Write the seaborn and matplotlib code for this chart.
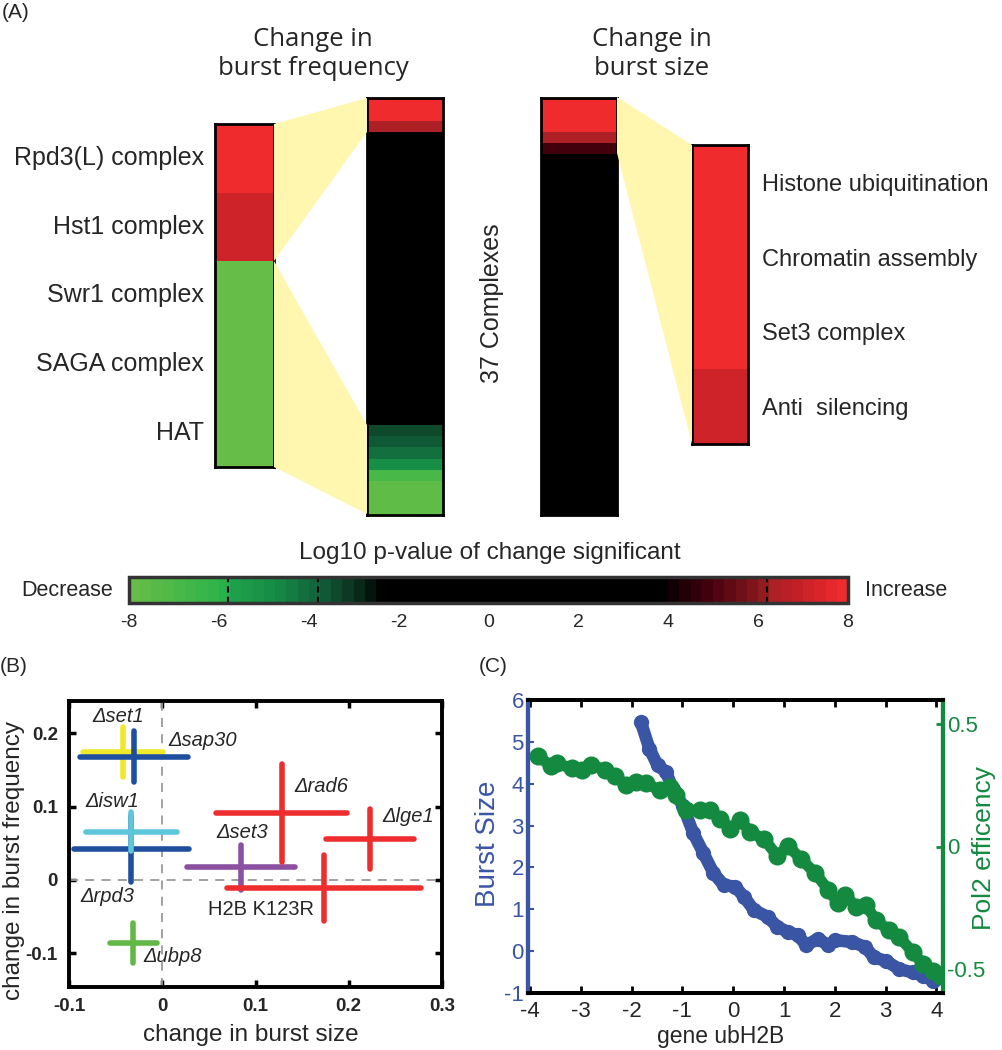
"""
Burst frequency / burst size enrichment figure (panels A, B, C).
"""
import numpy as np
import matplotlib
matplotlib.use("Agg")
import matplotlib.pyplot as plt
from matplotlib.colors import LinearSegmentedColormap, Normalize
from matplotlib.cm import ScalarMappable
from matplotlib.patches import Polygon
import seaborn as sns

sns.set_theme(style="white")
plt.rcParams['font.family'] = ['Liberation Sans', 'DejaVu Sans']
plt.rcParams['axes.unicode_minus'] = False

# ---------------- data ----------------
# (A) signed log10 p-values
freq_complexes = ["Rpd3(L) complex", "Hst1 complex", "Swr1 complex", "SAGA complex", "HAT"]
freq_selected = [8.0, 7.0, -7.8, -7.8, -7.8]
freq_all = [8.0, 8.0, 6.3,
            0, 0, 0, 0, 0, 0, 0, 0, 0, 0, 0, 0, 0,
            0, 0, 0, 0, 0, 0, 0, 0, 0, 0, 0, 0, 0,
            -3.4, -3.6, -4.1, -4.8, -6.8, -7.7, -7.7, -7.7]
size_all = [8.0, 8.0, 8.0, 6.3, 4.9,
            0, 0, 0, 0, 0, 0, 0, 0, 0, 0, 0, 0, 0, 0, 0, 0,
            0, 0, 0, 0, 0, 0, 0, 0, 0, 0, 0, 0, 0, 0, 0, 0]
size_complexes = ["Histone ubiquitination", "Chromatin assembly", "Set3 complex", "Anti  silencing"]
size_selected = [8.0, 8.0, 8.0, 7.0]
cbar_ticks = [-8, -6, -4, -2, 0, 2, 4, 6, 8]

# (B) mutants: change in burst size (x) and burst frequency (y)
mutants = ["\u0394set1", "\u0394sap30", "\u0394rpd3", "\u0394isw1", "\u0394ubp8",
           "\u0394set3", "\u0394rad6", "\u0394lge1", "H2B K123R"]
size_change = [-0.042, -0.030, -0.033, -0.033, -0.031, 0.0845, 0.128, 0.2225, 0.173]
size_err = [0.043, 0.058, 0.062, 0.049, 0.025, 0.058, 0.070, 0.047, 0.104]
freq_change = [0.175, 0.168, 0.042, 0.066, -0.086, 0.017, 0.091, 0.056, -0.011]
freq_err = [0.034, 0.035, 0.045, 0.026, 0.027, 0.031, 0.067, 0.041, 0.045]
mutant_colors = ["#f0e92b", "#1f4e9e", "#1f4e9e", "#5ec6da", "#62b846",
                 "#8c50a0", "#ee2e2e", "#ee2e2e", "#ee2e2e"]
label_x = [-0.0746, 0.007, -0.088, -0.082, -0.020, 0.058, 0.142, 0.236, 0.049]
label_y = [0.223, 0.190, -0.023, 0.107, -0.105, 0.065, 0.128, 0.087, -0.040]

# (C) running averages vs gene ubH2B
burst_x = [-1.82, -1.65, -1.49, -1.32, -1.19, -0.99, -0.79, -0.59, -0.39, -0.19,
           0.04, 0.21, 0.41, 0.675, 0.87, 1.075, 1.27, 1.44, 1.67, 1.87,
           2.01, 2.34, 2.60, 2.77, 3.00, 3.27, 3.54, 3.74, 3.94]
burst_size = [5.48, 4.84, 4.44, 4.28, 3.87, 3.47, 2.83, 2.35, 1.87, 1.58,
              1.54, 1.30, 0.98, 0.82, 0.58, 0.46, 0.38, 0.14, 0.30, 0.14,
              0.26, 0.22, 0.10, -0.15, -0.23, -0.43, -0.51, -0.59, -0.71]
pol2_x = [-3.85, -3.58, -3.47, -3.18, -2.98, -2.79, -2.52, -2.32, -2.12, -1.92,
          -1.72, -1.45, -1.25, -1.12, -0.92, -0.66, -0.46, -0.26, -0.06, 0.14,
          0.34, 0.61, 0.87, 1.08, 1.34, 1.61, 1.87, 2.07, 2.21, 2.41,
          2.61, 2.81, 3.07, 3.27, 3.54, 3.74, 3.94, 4.10]
pol2_eff = [0.37, 0.33, 0.34, 0.32, 0.315, 0.333, 0.315, 0.287, 0.252, 0.266,
            0.259, 0.231, 0.245, 0.211, 0.148, 0.148, 0.148, 0.114, 0.072, 0.107,
            0.058, 0.03, -0.039, 0.003, -0.053, -0.108, -0.177, -0.233, -0.198, -0.247,
            -0.24, -0.302, -0.343, -0.371, -0.434, -0.482, -0.51, -0.53]

# ---------------- colormap (green - black - red, 64 steps) ----------------
cmap_nodes = [(-8, '#66bd47'), (-6, '#2bb34a'), (-5.8, '#1fa24b'), (-4.8, '#168a45'),
              (-3.8, '#11603a'), (-3.0, '#0b2e1c'), (-2.4, '#000000'), (4.0, '#000000'),
              (4.3, '#1a0004'), (5.0, '#45000e'), (6.2, '#8b1a1e'), (6.3, '#a52126'),
              (7.0, '#c42026'), (8.0, '#ef2b2d')]
pval_cmap = LinearSegmentedColormap.from_list(
    "pval", [((v + 8) / 16, c) for v, c in cmap_nodes], N=64)

W, H = 1002, 1050
fig = plt.figure(figsize=(W / 100, H / 100), dpi=100)


def px_axes(x0, y0, x1, y1):
    return fig.add_axes([x0 / W, 1 - y1 / H, (x1 - x0) / W, (y1 - y0) / H])


def fxy(x, y):
    return (x / W, 1 - y / H)


def column(ax, values, labels=None):
    sns.heatmap(np.array(values, dtype=float).reshape(-1, 1), ax=ax, cmap=pval_cmap,
                vmin=-8, vmax=8, cbar=False, xticklabels=False,
                yticklabels=labels if labels is not None else False)
    for sp in ax.spines.values():
        sp.set_visible(True)
        sp.set_color('black')
        sp.set_linewidth(2)
        sp.set_zorder(5)


# ---------------- (A) ----------------
# yellow zoom wedges
for poly in [[(274, 124), (367, 98), (367, 132), (274, 261)],
             [(274, 261), (367, 425), (367, 514), (274, 467)],
             [(617, 97), (692, 145), (692, 444), (617, 153)]]:
    fig.patches.append(Polygon([fxy(*p) for p in poly], closed=True,
                               transform=fig.transFigure, facecolor='#fff6b0',
                               edgecolor='none', zorder=0))

ax1 = px_axes(215, 124, 274, 467)
column(ax1, freq_selected, freq_complexes)
ax1.tick_params(axis='y', left=True, right=True, direction='in', length=6, width=2,
                color='black', labelsize=18, pad=8, labelrotation=0)

ax2 = px_axes(367, 98, 443, 515)
column(ax2, freq_all)

ax3 = px_axes(541, 98, 617, 515)
column(ax3, size_all)

ax4 = px_axes(692, 145, 748, 444)
column(ax4, size_selected, size_complexes)
ax4.yaxis.tick_right()
ax4.tick_params(axis='y', left=True, right=True, labelleft=False, labelright=True,
                direction='in', length=6, width=2, color='black', labelsize=17,
                pad=10, labelrotation=0)

fig.text(*fxy(2, 12), "(A)", fontsize=15, va='center', ha='left')
fig.text(*fxy(313, 54), "Change in\nburst frequency", fontsize=18.5, ha='center',
         va='center', linespacing=1.25, family=['Open Sans', 'DejaVu Sans'])
fig.text(*fxy(652, 54), "Change in\nburst size", fontsize=18.5, ha='center',
         va='center', linespacing=1.25, family=['Open Sans', 'DejaVu Sans'])
fig.text(*fxy(492, 303), "37 Complexes", fontsize=18, rotation=90,
         ha='center', va='center')

# colorbar
cax = px_axes(129, 577, 848, 603)
cb = fig.colorbar(ScalarMappable(norm=Normalize(-8, 8), cmap=pval_cmap),
                  cax=cax, orientation='horizontal')
cb.set_ticks(cbar_ticks)
cb.ax.tick_params(length=0, labelsize=14, pad=8)
cb.outline.set_linewidth(2.5)
cb.outline.set_edgecolor('#333333')
for v in [-5.8, -3.8, 6.2]:
    cax.axvline(v, color='black', lw=1.5, ls=(0, (3, 2)))
fig.text(*fxy(490, 553), "Log10 p-value of change significant", fontsize=17.5,
         ha='center', va='center')
fig.text(*fxy(113, 590), "Decrease", fontsize=15.5, ha='right', va='center')
fig.text(*fxy(865, 590), "Increase", fontsize=15.5, ha='left', va='center')

# ---------------- (B) ----------------
axB = px_axes(69, 701, 442, 987)
axB.axhline(0, color='#9a9a9a', lw=1.3, ls=(0, (5, 4)), zorder=1)
axB.axvline(0, color='#9a9a9a', lw=1.3, ls=(0, (5, 4)), zorder=1)
for i in range(len(mutants)):
    eb = axB.errorbar(size_change[i], freq_change[i], xerr=size_err[i], yerr=freq_err[i],
                      fmt='none', ecolor=mutant_colors[i], elinewidth=4, capsize=0,
                      zorder=2 + i)
    for coll in eb.lines[2]:
        coll.set_capstyle('round')
    it = 'normal' if mutants[i].startswith('H2B') else 'italic'
    axB.text(label_x[i], label_y[i], mutants[i], fontsize=14.5, style=it,
             ha='left', va='center', zorder=20)
axB.set_xlim(-0.1, 0.3)
axB.set_ylim(-0.146, 0.244)
axB.set_xticks([-0.1, 0, 0.1, 0.2, 0.3])
axB.set_xticklabels(["-0.1", "0", "0.1", "0.2", "0.3"])
axB.set_yticks([-0.1, 0, 0.1, 0.2])
axB.set_yticklabels(["-0.1", "0", "0.1", "0.2"])
axB.tick_params(which='both', direction='in', top=True, right=True, bottom=True,
                left=True, length=5, width=2.5, color='black', labelsize=13.5, pad=8)
for lab in axB.get_xticklabels() + axB.get_yticklabels():
    lab.set_fontweight('bold')
for sp in axB.spines.values():
    sp.set_color('black')
    sp.set_linewidth(2.8)
axB.set_xlabel("change in burst size", fontsize=17.5, va='center')
axB.xaxis.set_label_coords((251 - 69) / 373, (987 - 1035) / 286)
axB.set_ylabel("change in burst frequency", fontsize=17.5, va='center')
axB.yaxis.set_label_coords((14 - 69) / 373, (987 - 860) / 286)
fig.text(*fxy(0, 667), "(B)", fontsize=15, va='center', ha='left')

# ---------------- (C) ----------------
blue = '#3a55a4'
green = '#138a3f'
axC = px_axes(528, 700, 943, 993)
sns.lineplot(x=burst_x, y=burst_size, ax=axC, color=blue, linewidth=9,
             marker='o', markersize=11, markeredgewidth=0, sort=False,
             solid_capstyle='butt')
axC.set_xlim(-4.04, 4.13)
axC.set_ylim(-1, 6)
axC.set_xticks(range(-4, 5))
axC.set_yticks(range(-1, 7))
axC.tick_params(axis='x', direction='in', top=True, bottom=True, length=5, width=2,
                color='black', labelsize=16, pad=6)
axC.tick_params(axis='y', direction='in', left=True, length=4, width=1.5,
                color=blue, labelcolor=blue, labelsize=16, pad=3)
axC.set_xlabel("gene ubH2B", fontsize=16.5, va='center')
axC.xaxis.set_label_coords((721 - 528) / 415, (993 - 1036) / 293)
axC.set_ylabel("Burst Size", fontsize=20, color=blue, va='center')
axC.yaxis.set_label_coords((488 - 528) / 415, (993 - 844) / 293)

axC2 = axC.twinx()
sns.lineplot(x=pol2_x, y=pol2_eff, ax=axC2, color=green, linewidth=8,
             marker='o', markersize=13, markeredgewidth=0, sort=False)
axC2.set_ylim(-0.6, 0.6)
axC2.set_yticks([-0.5, 0, 0.5])
axC2.set_yticklabels(["-0.5", "0", "0.5"])
axC2.tick_params(axis='y', direction='in', right=True, length=5, width=2,
                 color=green, labelcolor=green, labelsize=16, pad=3)
axC2.set_ylabel("Pol2 efficency", fontsize=19, color=green, va='center')
axC2.yaxis.set_label_coords((984 - 528) / 415, (993 - 848) / 293)
for a in (axC, axC2):
    a.spines['top'].set_color('black')
    a.spines['bottom'].set_color('black')
    a.spines['top'].set_linewidth(2.8)
    a.spines['bottom'].set_linewidth(2.8)
    a.spines['left'].set_color(blue)
    a.spines['left'].set_linewidth(3)
    a.spines['right'].set_color(green)
    a.spines['right'].set_linewidth(3)
fig.text(*fxy(479, 666), "(C)", fontsize=15, va='center', ha='left')

fig.savefig("out.png", dpi=100)
